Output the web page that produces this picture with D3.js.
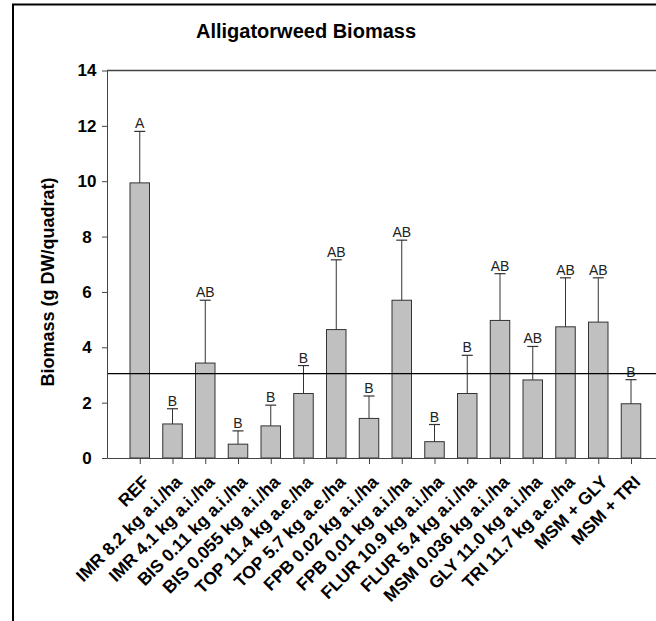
<!DOCTYPE html>
<html>
<head>
<meta charset="utf-8">
<script src="https://cdn.jsdelivr.net/npm/d3@7/dist/d3.min.js"></script>
<style>
  html, body { margin: 0; padding: 0; background: #fff; }
  svg { display: block; font-family: Arial, "Liberation Sans", Helvetica, sans-serif; }
</style>
</head>
<body>
<svg id="chart" width="656" height="621"></svg>
<script>
// Treatments (x categories)
const categories = [
  "REF",
  "IMR 8.2 kg a.i./ha",
  "IMR 4.1 kg a.i./ha",
  "BIS 0.11 kg a.i./ha",
  "BIS 0.055 kg a.i./ha",
  "TOP 11.4 kg a.e./ha",
  "TOP 5.7 kg a.e./ha",
  "FPB 0.02 kg a.i./ha",
  "FPB 0.01 kg a.i./ha",
  "FLUR 10.9 kg a.i./ha",
  "FLUR 5.4 kg a.i./ha",
  "MSM 0.036 kg a.i./ha",
  "GLY 11.0 kg a.i./ha",
  "TRI 11.7 kg a.e./ha",
  "MSM + GLY",
  "MSM + TRI"
];

// Mean biomass (g DW/quadrat)
const means = [9.94, 1.23, 3.43, 0.50, 1.16, 2.33, 4.64, 1.43, 5.70, 0.59, 2.33, 4.97, 2.82, 4.74, 4.91, 1.96];
// Upper error bar ends (mean + error)
const upper = [11.80, 1.78, 5.70, 0.98, 1.91, 3.34, 7.16, 2.24, 7.87, 1.21, 3.71, 6.66, 4.03, 6.51, 6.51, 2.83];
// Significance letters
const letters = ["A", "B", "AB", "B", "B", "B", "AB", "B", "AB", "B", "B", "AB", "AB", "AB", "AB", "B"];

// Reference line level
const refLine = [3.05];

const yTicks = [0, 2, 4, 6, 8, 10, 12, 14];

(function () {
  const svg = d3.select("#chart");

  // Outer frame (left and top edges)
  svg.append("path")
    .attr("d", "M13,621 L13,4.5 L656,4.5")
    .attr("fill", "none")
    .attr("stroke", "#000")
    .attr("stroke-width", 2);

  const plotLeft = 107, plotTop = 70.5, plotBottom = 458;
  const step = 32.75;
  const plotRight = plotLeft + step * (categories.length + 1);

  const y = d3.scaleLinear().domain([0, 14]).range([plotBottom, plotTop]);
  const x = d3.scaleLinear().domain([0, categories.length + 1]).range([plotLeft, plotRight]);
  const barW = 19.5;

  // Title
  svg.append("text")
    .attr("x", 306).attr("y", 38)
    .attr("text-anchor", "middle")
    .attr("font-size", 20).attr("font-weight", "bold")
    .text("Alligatorweed Biomass");

  // Top border of plot area
  svg.append("line")
    .attr("x1", plotLeft).attr("x2", 656)
    .attr("y1", plotTop).attr("y2", plotTop)
    .attr("stroke", "#444").attr("stroke-width", 1.5);

  // Bars
  const g = svg.append("g");
  g.selectAll("rect.bar")
    .data(means)
    .join("rect")
    .attr("class", "bar")
    .attr("x", (d, i) => x(i + 1) - barW / 2)
    .attr("y", d => y(d))
    .attr("width", barW)
    .attr("height", d => y(0) - y(d))
    .attr("fill", "#c0c0c0")
    .attr("stroke", "#333")
    .attr("stroke-width", 1);

  // Error bars
  g.selectAll("line.err")
    .data(upper)
    .join("line")
    .attr("class", "err")
    .attr("x1", (d, i) => x(i + 1)).attr("x2", (d, i) => x(i + 1))
    .attr("y1", (d, i) => y(means[i])).attr("y2", d => y(d))
    .attr("stroke", "#333").attr("stroke-width", 1);
  g.selectAll("line.cap")
    .data(upper)
    .join("line")
    .attr("class", "cap")
    .attr("x1", (d, i) => x(i + 1) - 5.5).attr("x2", (d, i) => x(i + 1) + 5.5)
    .attr("y1", d => y(d)).attr("y2", d => y(d))
    .attr("stroke", "#333").attr("stroke-width", 1.2);

  // Letters
  g.selectAll("text.letter")
    .data(letters)
    .join("text")
    .attr("class", "letter")
    .attr("x", (d, i) => x(i + 1))
    .attr("y", (d, i) => y(upper[i]) - 3)
    .attr("text-anchor", "middle")
    .attr("font-size", 14)
    .attr("fill", "#222")
    .text(d => d);

  // Horizontal reference line
  svg.selectAll("line.ref")
    .data(refLine)
    .join("line")
    .attr("class", "ref")
    .attr("x1", plotLeft).attr("x2", 656)
    .attr("y1", d => y(d)).attr("y2", d => y(d))
    .attr("stroke", "#000").attr("stroke-width", 1.2);

  // Y axis (tick labels centred in the margin column)
  const yAxis = svg.append("g")
    .attr("transform", `translate(${plotLeft},0)`)
    .call(d3.axisLeft(y).tickValues(yTicks).tickSize(5).tickPadding(3).tickSizeOuter(0));
  yAxis.select(".domain").attr("stroke", "#444");
  yAxis.selectAll(".tick line").attr("stroke", "#444");
  yAxis.selectAll(".tick text")
    .attr("x", -20)
    .attr("text-anchor", "middle")
    .attr("font-size", 17).attr("font-weight", "bold")
    .attr("font-family", "Arial, 'Liberation Sans', sans-serif")
    .attr("fill", "#000");

  // X axis
  const xAxis = svg.append("g")
    .attr("transform", `translate(0,${plotBottom})`)
    .call(d3.axisBottom(x)
      .tickValues(d3.range(1, categories.length + 1))
      .tickFormat(i => categories[i - 1])
      .tickSize(6).tickSizeOuter(0));
  xAxis.select(".domain").attr("stroke", "#444");
  xAxis.selectAll(".tick line").attr("stroke", "#444");
  xAxis.selectAll(".tick text")
    .attr("font-size", 17.5).attr("font-weight", "bold")
    .attr("font-family", "Arial, 'Liberation Sans', sans-serif")
    .attr("fill", "#000")
    .attr("text-anchor", "end")
    .attr("dy", null)
    .attr("y", 0)
    .attr("transform", "translate(10,25) rotate(-45)");

  // Y axis title
  svg.append("text")
    .attr("transform", "translate(54,282) rotate(-90)")
    .attr("text-anchor", "middle")
    .attr("font-size", 18).attr("font-weight", "bold")
    .text("Biomass (g DW/quadrat)");
})();
</script>
</body>
</html>
